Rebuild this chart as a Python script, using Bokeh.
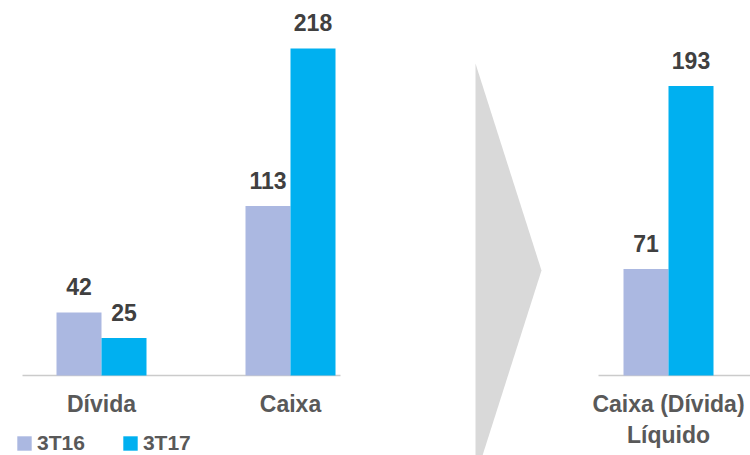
from bokeh.plotting import figure
from bokeh.models import Range1d, ColumnDataSource, Legend, LegendItem
from bokeh.transform import dodge
from bokeh.core.properties import value
from bokeh.embed import file_html
from bokeh.resources import INLINE

# ---- data ----
categories = ["Dívida", "Caixa", "Caixa (Dívida)\nLíquido"]
series = ["3T16", "3T17"]
values_3t16 = [42, 113, 71]
values_3t17 = [25, 218, 193]
colors = ["#abb8e1", "#00b0f0"]

# slot layout: an empty slot between the two panels holds the arrow
layout_slots = ["Dívida", "Caixa", None, "Caixa (Dívida)\nLíquido"]
slots = [layout_slots.index(c) for c in categories]

# ---- geometry ----
W, H = 750, 455
SLOT_PX = 189.0          # pixels per slot
X0_PX = 101.0            # slot 0 centre from left of frame
ZERO_PX = 375.0          # value 0 from top of frame
Y_PX = 1.5               # pixels per unit
BAR = 45.0 / SLOT_PX     # bar width in slot units
HALF = BAR / 2

FONT = value("Liberation Sans")

p = figure(width=W, height=H,
           x_range=Range1d(-X0_PX / SLOT_PX, (W - X0_PX) / SLOT_PX),
           y_range=Range1d(-(H - ZERO_PX) / Y_PX, ZERO_PX / Y_PX),
           output_backend="svg", toolbar_location=None,
           x_axis_location=None, y_axis_location=None,
           min_border=0, outline_line_color=None)
p.grid.visible = False
p.background_fill_color = "white"
p.border_fill_color = "white"


def px_x(px):  # picture pixel -> slot units, for decoration only
    return (px - X0_PX) / SLOT_PX


def px_y(py):
    return (ZERO_PX - py) / Y_PX


# decorative arrow between panels
p.patch(x=[px_x(475), px_x(541), px_x(475)],
        y=[px_y(63), px_y(270), px_y(477)],
        fill_color="#d9d9d9", line_color=None)

# baselines of the two panels
p.segment(x0=[px_x(22), px_x(598)], y0=[0, 0],
          x1=[px_x(340), px_x(760)], y1=[0, 0],
          line_color="#cbcbcb", line_width=1.5)

src = ColumnDataSource(dict(
    slot=slots, cat=categories,
    v16=values_3t16, v17=values_3t17,
    t16=[str(v) for v in values_3t16], t17=[str(v) for v in values_3t17],
    zero=[0] * len(categories),
))

r1 = p.vbar(x=dodge("slot", -HALF), top="v16", bottom=0, width=BAR,
            source=src, fill_color=colors[0], line_color=None)
r2 = p.vbar(x=dodge("slot", HALF), top="v17", bottom=0, width=BAR,
            source=src, fill_color=colors[1], line_color=None)

common = dict(text_font=FONT, text_font_style="bold", text_align="center",
              source=src)
p.text(x=dodge("slot", -HALF), y="v16", text="t16", text_baseline="alphabetic",
       y_offset=-26, text_font_size="23px", text_color="#404040", **common)
p.text(x=dodge("slot", HALF), y="v17", text="t17", text_baseline="alphabetic",
       y_offset=-26, text_font_size="23px", text_color="#404040", **common)

# category labels
p.text(x="slot", y="zero", text="cat", text_baseline="top", y_offset=15,
       text_font_size="23px", text_color="#595959", text_line_height=1.2,
       **common)

legend = Legend(items=[LegendItem(label=series[0], renderers=[r1]),
                       LegendItem(label=series[1], renderers=[r2])],
                orientation="horizontal", location=(15, 0),
                label_text_font="Liberation Sans", label_text_font_style="bold",
                label_text_font_size="21px", label_text_color="#595959",
                glyph_width=18, glyph_height=18, label_standoff=4,
                spacing=36, padding=0, margin=0,
                border_line_color=None, background_fill_alpha=0)
p.add_layout(legend)

open("out.html", "w").write(file_html(p, INLINE))
